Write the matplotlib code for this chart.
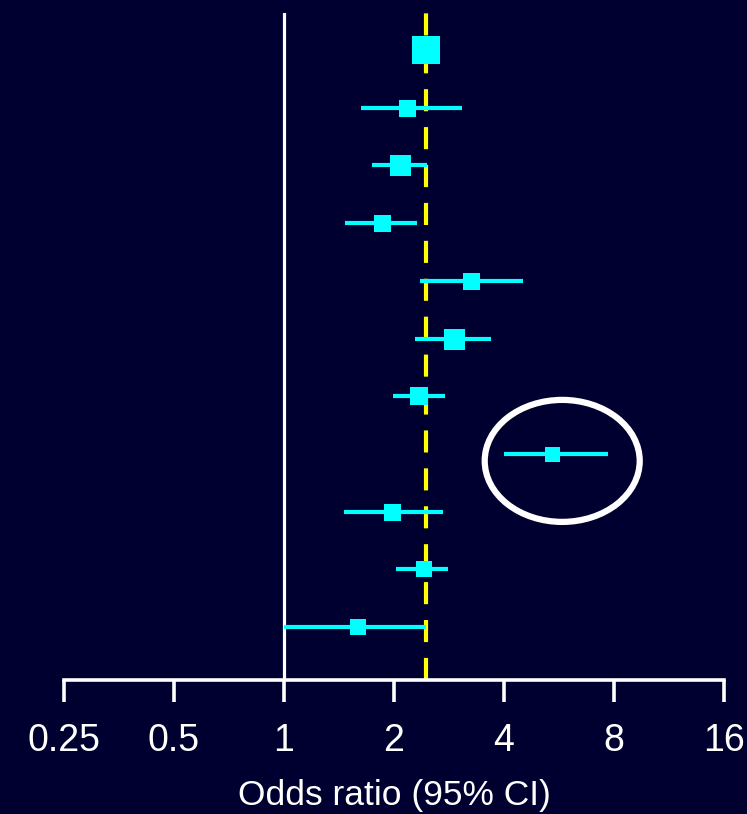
import numpy as np
import matplotlib
matplotlib.use('Agg')
import matplotlib.pyplot as plt
from matplotlib.patches import Ellipse
from matplotlib.transforms import IdentityTransform

# 数据：各研究的OR值及95%置信区间（从上到下）
odds_ratio = [2.45, 2.17, 2.08, 1.85, 3.25, 2.92, 2.34, 5.42, 1.97, 2.42, 1.59]
ci_low = [2.45, 1.62, 1.74, 1.47, 2.36, 2.28, 1.99, 3.99, 1.46, 2.02, 1.0]
ci_high = [2.45, 3.07, 2.46, 2.31, 4.52, 3.68, 2.76, 7.70, 2.72, 2.81, 2.45]
weights = [28, 17, 21, 17, 17, 21, 18, 15, 17, 16, 16]
pooled_or = 2.45
highlight_row = 7
x_ticks = [0.25, 0.5, 1, 2, 4, 8, 16]
x_tick_labels = ['0.25', '0.5', '1', '2', '4', '8', '16']

bg = '#000030'
plt.rcParams['font.family'] = ['Liberation Sans', 'DejaVu Sans']

fig = plt.figure(figsize=(7.47, 8.14), dpi=100, facecolor=bg)
W, H = 747, 814
x0, x1 = 64, 724
ax = fig.add_axes([x0 / W, (H - 680) / H, (x1 - x0) / W, (680 - 13) / H])
ax.set_facecolor(bg)
ax.set_xscale('log', base=2)
ax.set_xlim(0.25, 16)
n = len(odds_ratio)
rows = np.arange(n)
ax.set_ylim(n - 1 + 53 / 57.7, -37 / 57.7)

# 参考线
ax.axvline(1, color='white', lw=2.3, zorder=1)
ax.axvline(pooled_or, color='#ffff00', lw=3, dashes=(5.3, 3.8), zorder=1)

# 置信区间和方块
for i in rows:
    ax.plot([ci_low[i], ci_high[i]], [i, i], color='#00ffff', lw=3, solid_capstyle='butt', zorder=2)
    ax.plot(odds_ratio[i], i, marker='s', color='#00ffff', ms=weights[i] * 0.72,
            markeredgewidth=0, zorder=3)

# 圈出异常点
fig.canvas.draw()
cx, cy = ax.transData.transform((odds_ratio[highlight_row], highlight_row))
ell = Ellipse((cx + 10, cy - 7), 155, 122, transform=IdentityTransform(),
              fill=False, edgecolor='white', lw=4.5, zorder=4)
fig.patches.append(ell)
ell.set_figure(fig)

# 坐标轴
for s in ['top', 'right', 'left']:
    ax.spines[s].set_visible(False)
ax.spines['bottom'].set_color('white')
ax.spines['bottom'].set_linewidth(2.6)
ax.spines['bottom'].set_bounds(0.25, 16)
ax.set_yticks([])
ax.set_xticks(x_ticks)
ax.set_xticklabels(x_tick_labels)
ax.minorticks_off()
ax.tick_params(axis='x', colors='white', length=16, width=2.6, pad=15, labelsize=27)
ax.set_xlabel('Odds ratio (95% CI)', color='white', fontsize=25.5, labelpad=14.5)

fig.savefig('out.png', facecolor=bg)
